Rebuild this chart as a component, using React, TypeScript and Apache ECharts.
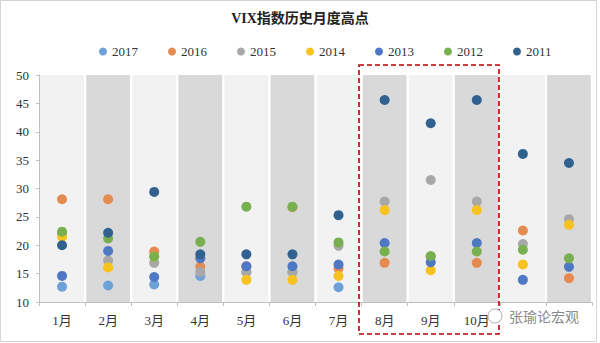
import React, { useEffect, useRef } from "react";
import * as echarts from "echarts";

const months = ["1月", "2月", "3月", "4月", "5月", "6月", "7月", "8月", "9月", "10月", "11月", "12月"];
const years = ["2017", "2016", "2015", "2014", "2013", "2012", "2011"];
const bandTop = [50, 50, 50, 50, 50, 50, 50, 50, 50, 50, 50, 50];

const v2017 = [12.7, 12.9, 13.1, 14.6, 15.3, 15.3, 12.6, null, null, null, null, null];
const v2016 = [28.1, 28.1, 18.9, 16.2, 16.3, 26.7, 15.9, 16.9, 18.0, 16.9, 22.6, 14.2];
const v2015 = [22.0, 17.3, 16.9, 15.3, 15.3, 15.3, 19.9, 27.7, 31.5, 27.7, 20.2, 24.6];
const v2014 = [21.5, 16.1, 18.0, 17.7, 13.9, 13.9, 14.6, 26.2, 15.6, 26.2, 16.6, 23.6];
const v2013 = [14.6, 19.0, 14.4, 17.7, 16.3, 16.3, 16.6, 20.4, 17.0, 20.4, 13.9, 16.2];
const v2012 = [22.4, 21.2, 18.0, 20.6, 26.8, 26.8, 20.5, 18.9, 18.1, 18.9, 19.2, 17.7];
const v2011 = [20.0, 22.2, 29.4, 18.4, 18.4, 18.4, 25.3, 45.6, 41.5, 45.6, 36.1, 34.5];

const seriesValues = [v2017, v2016, v2015, v2014, v2013, v2012, v2011];
const colors = ["#6fa1d9", "#e58a50", "#a8a8a8", "#f8c21e", "#4f78c4", "#78b050", "#31628f"];

const serif = "'Liberation Serif', 'Times New Roman', 'Noto Sans CJK SC', serif";

export default function App() {
  const ref = useRef<HTMLDivElement>(null);
  useEffect(() => {
    document.body.style.margin = "0";
    if (!ref.current) return;
    const chart = echarts.init(ref.current, undefined, { renderer: "svg" });
    const scatterSeries = years.map((y, i) => ({
      name: y,
      type: "scatter",
      symbol: "circle",
      symbolSize: 10,
      itemStyle: { color: colors[i], opacity: 1 },
      data: seriesValues[i].map((v, j) => (v === null ? [j, null] : [j, v])),
      z: 3,
    }));
    chart.setOption({
      animation: false,
      backgroundColor: "#ffffff",
      title: {
        text: "VIX指数历史月度高点",
        left: "center",
        top: 6,
        textStyle: { fontFamily: serif, fontSize: 14, fontWeight: "bold", color: "#222" },
      },
      legend: {
        data: years,
        left: 94,
        top: 40,
        icon: "circle",
        itemWidth: 8,
        itemHeight: 8,
        itemGap: 30,
        textStyle: { fontFamily: serif, fontSize: 13, color: "#333" },
      },
      grid: { left: 39, right: 8, top: 75, bottom: 41 },
      xAxis: {
        type: "category",
        data: months,
        boundaryGap: true,
        axisLine: { lineStyle: { color: "#bfbfbf", width: 1 } },
        axisTick: { show: true, length: 4, lineStyle: { color: "#bfbfbf" } },
        axisLabel: {
          fontFamily: serif,
          fontSize: 13,
          color: "#333",
          margin: 12,
          formatter: (val: string, idx: number) => (idx >= 10 ? "" : val),
        },
        splitLine: { show: false },
      },
      yAxis: {
        type: "value",
        min: 10,
        max: 50,
        interval: 5,
        axisLine: { show: true, lineStyle: { color: "#bfbfbf", width: 1 } },
        axisTick: { show: true, length: 3, lineStyle: { color: "#bfbfbf" } },
        axisLabel: { fontFamily: serif, fontSize: 13, color: "#333", margin: 10 },
        splitLine: { show: false },
      },
      series: [
        {
          name: "band",
          type: "bar",
          data: bandTop.map((v, j) => ({
            value: v,
            itemStyle: { color: j % 2 === 0 ? "#f2f2f2" : "#d9d9d9" },
          })),
          barCategoryGap: "5%",
          silent: true,
          clip: true,
          z: 1,
        },
        ...scatterSeries,
      ],
      graphic: [
        {
          type: "rect",
          shape: { x: 0.5, y: 0.5, width: 596, height: 341 },
          style: { fill: "none", stroke: "#d4d4d4", lineWidth: 1 },
          silent: true,
        },
        {
          type: "rect",
          shape: { x: 359, y: 65, width: 140, height: 269 },
          style: { fill: "none", stroke: "#c00000", lineWidth: 1.6, lineDash: [5, 3] },
          z: 10,
          silent: true,
        },
        {
          type: "circle",
          shape: { cx: 495, cy: 316, r: 7 },
          style: { fill: "#ffffff", stroke: "#b0b0b0", lineWidth: 1 },
          z: 11,
          silent: true,
        },
        {
          type: "text",
          left: 509,
          top: 309,
          style: {
            text: "张瑜论宏观",
            fontSize: 14,
            fill: "#8a8a8a",
            fontFamily: "'Noto Sans CJK SC', sans-serif",
          },
          z: 11,
          silent: true,
        },
      ],
    });
    return () => chart.dispose();
  }, []);
  return <div ref={ref} style={{ width: 600, height: 343 }} />;
}
